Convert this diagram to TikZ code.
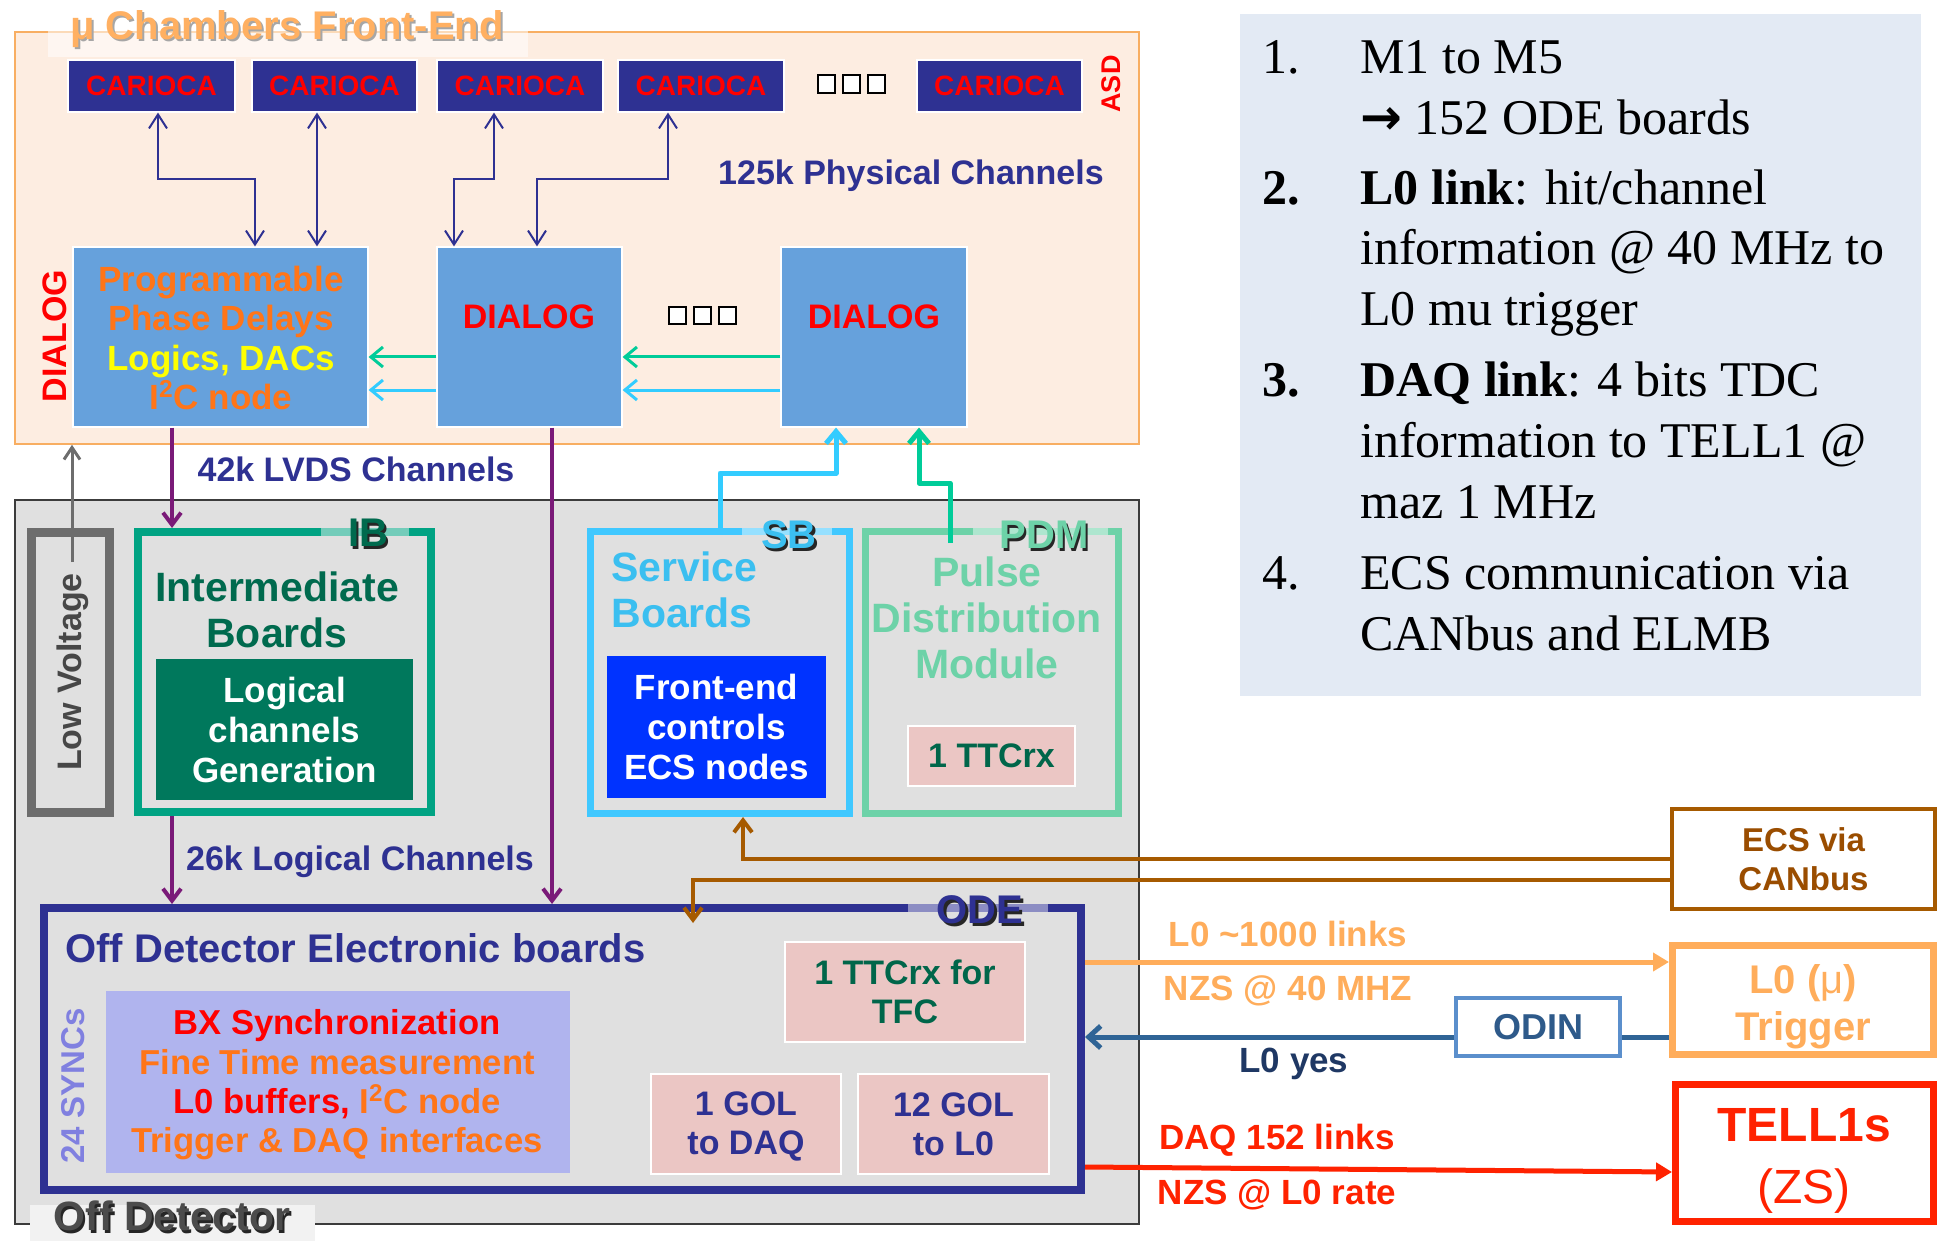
\documentclass[tikz,border=0pt]{standalone}
\usepackage{fontspec}
\setmainfont{Liberation Sans}
\newfontfamily\notefont{Liberation Serif}
\newfontfamily\arrowfont{DejaVu Sans}
\usetikzlibrary{arrows.meta,positioning,fit}
\definecolor{FEfill}{HTML}{FDEDE1}
\definecolor{FEedge}{HTML}{F8AE62}
\definecolor{TitleOr}{HTML}{FFB062}
\definecolor{CarBlue}{HTML}{2E3192}
\definecolor{DiaBlue}{HTML}{66A1DC}
\definecolor{HotRed}{HTML}{FF0000}
\definecolor{TxtOr}{HTML}{FF7518}
\definecolor{TxtYel}{HTML}{FFFF00}
\definecolor{Plum}{HTML}{7A1A78}
\definecolor{ODfill}{HTML}{E0E0E0}
\definecolor{ODedge}{HTML}{3C3C3C}
\definecolor{LVgray}{HTML}{6D6D6D}
\definecolor{IBgreen}{HTML}{00A383}
\definecolor{IBtext}{HTML}{006A4E}
\definecolor{IBinner}{HTML}{00785C}
\definecolor{SBblue}{HTML}{40C8FF}
\definecolor{SBtext}{HTML}{3BBFF0}
\definecolor{SBinner}{HTML}{0033FF}
\definecolor{PDMgreen}{HTML}{6DD2A8}
\definecolor{Mint}{HTML}{00CC99}
\definecolor{Sky}{HTML}{33CCFF}
\definecolor{Pink}{HTML}{EBC6C4}
\definecolor{TTCtext}{HTML}{00664A}
\definecolor{Brown}{HTML}{A65A00}
\definecolor{BrownTxt}{HTML}{9A4D00}
\definecolor{L0or}{HTML}{FFAD5B}
\definecolor{OdinEdge}{HTML}{5B8FCC}
\definecolor{OdinTxt}{HTML}{2E5A8A}
\definecolor{OdinLine}{HTML}{2F6496}
\definecolor{YesTxt}{HTML}{1F3864}
\definecolor{TellRed}{HTML}{FF2200}
\definecolor{InfoBg}{HTML}{E3EAF4}
\definecolor{Lav}{HTML}{B0B4EE}
\definecolor{SyncTxt}{HTML}{8080E0}
\newcommand\fsz[2]{\fontsize{#1}{#2}\selectfont}
\tikzset{
  >=Latex,
  panelfe/.style={fill=FEfill,draw=FEedge,line width=.8pt,inner sep=0pt},
  panelod/.style={fill=ODfill,draw=ODedge,line width=.8pt,inner sep=0pt},
  cario/.style={fill=CarBlue,draw=white,line width=.6pt,inner sep=0pt},
  cartxt/.style={text=HotRed,font=\bfseries\fsz{14}{16},inner sep=0pt},
  diabox/.style={fill=DiaBlue,draw=white,line width=.6pt,inner sep=0pt},
  diatxt/.style={text=HotRed,font=\bfseries\fsz{17}{20},inner sep=0pt},
  chantxt/.style={text=CarBlue,font=\bfseries\fsz{17}{20},inner sep=0pt},
  sidetxt/.style={font=\bfseries\fsz{17}{20},inner sep=0pt,rotate=90},
  unitbox/.style={draw,line width=4pt,inner sep=0pt},
  bigname/.style={font=\bfseries\fsz{20.5}{23},inner sep=0pt,align=center},
  corebox/.style={inner sep=0pt},
  coretxt/.style={inner sep=0pt,text=white,align=center,font=\bfseries\fsz{17.5}{20}},
  pinkbox/.style={fill=Pink,draw=white,line width=1pt,inner sep=0pt},
  pinktxt/.style={inner sep=0pt,align=center,font=\bfseries\fsz{17}{19.5}},
  outbox/.style={fill=white,inner sep=0pt},
  outtxt/.style={inner sep=0pt,align=center},
  tagfont/.style={font=\bfseries\fsz{20}{22},inner sep=0pt},
  tagpatch/.style={fill=white,fill opacity=.45},
  sq/.style={draw=black,fill=white,line width=1pt},
  linktxt/.style={font=\bfseries\fsz{17.5}{20},inner sep=0pt},
  note/.style={font=\notefont\fsz{25}{30},anchor=base west,inner sep=0pt},
  chan/.style={draw=CarBlue,line width=1pt,{Straight Barb[length=7pt,width=9pt]}-{Straight Barb[length=7pt,width=9pt]}},
  sig/.style={line width=1.5pt,-{Straight Barb[length=6pt,width=10pt]}},
  lvds/.style={draw=Plum,line width=2pt,-{Straight Barb[length=6pt,width=9pt]}},
  lvup/.style={draw=LVgray,line width=1.5pt,-{Straight Barb[length=6pt,width=8pt]}},
  ctrl/.style={line width=2.5pt,line join=round,-{Straight Barb[length=6pt,width=10pt]}},
  ecsl/.style={draw=Brown,line width=2pt,-{Straight Barb[length=6pt,width=9pt]}},
  l0l/.style={draw=L0or,line width=2.5pt,-{Triangle[length=8pt,width=9pt]}},
  odinl/.style={draw=OdinLine,line width=2.5pt},
  daql/.style={draw=TellRed,line width=2.5pt,-{Triangle[length=8pt,width=9pt]}}
}
% label with a dark drop shadow
\newcommand\shadetag[5][]{%
  \node[tagfont,#1,text=black!85,xshift=1.2pt,yshift=-1.2pt] at (#3) {#5};
  \node[tagfont,#1,text=#4] (#2) at (#3) {#5};}

\begin{document}
\begin{tikzpicture}[x=.5pt,y=-.5pt]
\useasboundingbox (0,0) rectangle (1939,1241);

% front-end
\node[panelfe,fit={(15,32)(1139,444)}] (fe) {};
\fill[white,opacity=.55] (48,6) rectangle (528,57);
\node[tagfont,text=black!35,xshift=1pt,yshift=-1pt] at (287,29) {μ Chambers Front-End};
\node[tagfont,text=TitleOr] (title) at (287,29) {μ Chambers Front-End};
\foreach \i/\xa/\xb in {1/68/235,2/252/417,3/437/603,4/618/784,5/917/1082}{
  \node[cario,fit={(\xa,60)(\xb,112)}] (c\i) {};
  \node[cartxt] (ct\i) at (c\i.center) {CARIOCA};}
\foreach \k in {0,1,2} \draw[sq] (818+25*\k,75) rectangle ++(17,18);
\node[sidetxt,text=HotRed,font=\bfseries\fsz{13.5}{15}] (asd) at (1111,84) {ASD};
\node[chantxt] (phys) at (911,176) {125k Physical Channels};

\node[diabox,fit={(73,247)(368,427)}] (pd) {};
\node[align=center,inner sep=0pt,text=TxtOr,font=\bfseries\fsz{17.5}{19.7}] (pdtxt) at (221,338)
  {Programmable\\Phase Delays\\{\color{TxtYel}Logics, DACs}\\I\textsuperscript{2}C node};
\node[sidetxt,text=HotRed] (dlab) at (55,336) {DIALOG};
\node[diabox,fit={(437,247)(622,427)}] (d2) {};
\node[diatxt] (d2t) at (529,317) {DIALOG};
\node[diabox,fit={(781,247)(967,427)}] (d3) {};
\node[diatxt] (d3t) at (874,317) {DIALOG};
\foreach \k in {0,1,2} \draw[sq] (669+25*\k,307) rectangle ++(17,17);

% off detector
\node[panelod,fit={(15,500)(1139,1224)}] (od) {};
\fill[black!5] (30,1205) rectangle (315,1241);
\shadetag[font=\bfseries\fsz{20.5}{23}]{odtag}{172,1216}{black!70}{Off Detector}

\node[unitbox,draw=LVgray,line width=4.5pt,fit={(31.5,532.5)(109.5,812.5)}] (lv) {};
\node[sidetxt,text=black!72] (lvtxt) at (73,672) {Low Voltage};

\node[unitbox,draw=IBgreen,fit={(138,532)(431,812)}] (ib) {};
\fill[tagpatch] (321,528) rectangle (409,536);
\shadetag{ibtag}{368,533}{IBtext}{IB}
\node[bigname,text=IBtext] (ibname) at (277,610) {Intermediate\\Boards};
\node[corebox,fill=IBinner,fit={(156,659)(413,800)}] (ibcore) {};
\node[coretxt] (ibcoret) at (ibcore.center) {Logical\\channels\\Generation};

\node[unitbox,draw=SBblue,line width=3.5pt,fit={(590.5,531.5)(849.5,813.5)}] (sb) {};
\fill[tagpatch] (742,528) rectangle (832,535);
\shadetag{sbtag}{789,535}{SBtext}{SB}
\node[bigname,text=SBtext,align=left,anchor=west] (sbname) at (611,590) {Service\\Boards};
\node[corebox,fill=SBinner,fit={(607,656)(826,798)}] (sbcore) {};
\node[coretxt] (sbcoret) at (sbcore.center) {Front-end\\controls\\ECS nodes};

\node[unitbox,draw=PDMgreen,line width=3.5pt,fit={(865.5,531.5)(1118.5,813.5)}] (pdm) {};
\fill[tagpatch] (973,528) rectangle (1108,535);
\shadetag{pdmtag}{1044,535}{PDMgreen}{PDM}
\node[bigname,text=PDMgreen] (pdmname) at (987,618) {Pulse\\Distribution\\Module};
\node[pinkbox,fit={(908,726)(1075,786)}] (ttc) {};
\node[pinktxt,text=TTCtext] (ttct) at (ttc.center) {1 TTCrx};

\node[unitbox,draw=CarBlue,fit={(44,908)(1081,1190)}] (ode) {};
\fill[tagpatch] (908,904) rectangle (1048,912);
\shadetag{odetag}{980,910}{CarBlue}{ODE}
\node[font=\bfseries\fsz{20}{22},text=CarBlue,anchor=west,inner sep=0pt] (odename) at (65,948) {Off Detector Electronic boards};
\node[sidetxt,text=SyncTxt,font=\bfseries\fsz{16.5}{18}] (sync) at (73,1086) {24 SYNCs};
\node[fill=Lav,inner sep=0pt,fit={(106,991)(570,1173)}] (bx) {};
\node[inner sep=0pt,align=center,text=TxtOr,font=\bfseries\fsz{17.3}{19.7}] (bxt) at (337,1085)
  {{\color{HotRed}BX Synchronization}\\Fine Time measurement\\{\color{HotRed}L0 buffers,} I\textsuperscript{2}C node\\Trigger \& DAQ interfaces};
\node[pinkbox,fit={(785,942)(1025,1042)}] (ttcfc) {};
\node[pinktxt,text=TTCtext] (ttcfct) at (ttcfc.center) {1 TTCrx for\\TFC};
\node[pinkbox,fit={(651,1074)(841,1174)}] (gold) {};
\node[pinktxt,text=CarBlue] (goldt) at (746,1126) {1 GOL\\to DAQ};
\node[pinkbox,fit={(858,1074)(1049,1174)}] (goll) {};
\node[pinktxt,text=CarBlue] (gollt) at (goll.center) {12 GOL\\to L0};
\node[chantxt] (lvdstxt) at (356,469) {42k LVDS Channels};
\node[chantxt] (logtxt) at (360,862) {26k Logical Channels};

% outside
\node[outbox,draw=Brown,line width=2pt,fit={(1672,809)(1935,909)}] (ecs) {};
\node[outtxt,text=BrownTxt,font=\bfseries\fsz{16.5}{19.5}] (ecst) at (ecs.center) {ECS via\\CANbus};
\node[outbox,draw=L0or,line width=3.5pt,fit={(1672.5,945.5)(1933.5,1054.5)}] (l0) {};
\node[outtxt,text=L0or,font=\bfseries\fsz{20}{23.5}] (l0t) at (1803,1007) {L0 ({\mdseries μ})\\Trigger};
\node[outbox,draw=OdinEdge,line width=1.6pt,fit={(1456,998)(1620,1056)}] (odin) {};
\node[outtxt,text=OdinTxt,font=\bfseries\fsz{18}{20}] (odint) at (odin.center) {ODIN};
\node[outbox,draw=TellRed,line width=3.5pt,fit={(1675.5,1084.5)(1933.5,1221.5)}] (tell) {};
\node[text=TellRed,font=\bfseries\fsz{24}{26},inner sep=0pt] (telltxt) at (1804,1125) {TELL1s};
\node[text=TellRed,font=\fsz{24}{26},inner sep=0pt] (zstxt) at (1804,1191) {(ZS)};

% connectors
\draw[chan] (c1.south -| 158,0) |- (255,179) -- (pd.north -| 255,0);
\draw[chan] (c2.south -| 317,0) -- (pd.north -| 317,0);
\draw[chan] (c3.south -| 494,0) |- (454,179) -- (d2.north -| 454,0);
\draw[chan] (c4.south -| 668,0) |- (537,179) -- (d2.north -| 537,0);
\draw[sig,draw=Mint] (d2.west |- 0,357) -- (pd.east |- 0,357);
\draw[sig,draw=Mint] (d3.west |- 0,357) -- (d2.east |- 0,357);
\draw[sig,draw=Sky] (d2.west |- 0,390) -- (pd.east |- 0,390);
\draw[sig,draw=Sky] (d3.west |- 0,390) -- (d2.east |- 0,390);
\draw[lvds] (pd.south -| 172,0) -- (ib.north -| 172,0);
\draw[lvds] (d2.south -| 552,0) -- (ode.north -| 552,0);
\draw[lvds] (ib.south -| 172,0) -- (ode.north -| 172,0);
\coordinate (lvin) at (72,562);
\draw[lvup] (lvin) -- (fe.south -| lvin);
\draw[ctrl,draw=Sky] (sb.north -| 720,0) |- (836,473) -- (d3.south -| 836,0);
\coordinate (pdmin) at (950,543);
\draw[ctrl,draw=Mint] (pdmin) |- (919,483) -- (d3.south -| 919,0);
\draw[ecsl] (ecs.west |- 0,859) -| (sb.south -| 743,0);
\coordinate (ecsode) at (693,923);
\draw[ecsl] (ecs.west |- 0,880) -| (ecsode);
\draw[l0l] (ode.east |- 0,962) -- (l0.west |- 0,962);
\draw[odinl] (l0.west |- 0,1037) -- (odin.east |- 0,1037);
\draw[odinl,-{Straight Barb[length=6pt,width=11pt]}] (odin.west |- 0,1037) -- (ode.east |- 0,1037);
\draw[daql] (ode.east |- 0,1167) -- (tell.west |- 0,1172);
\node[linktxt,text=L0or] (l0a) at (1288,934) {L0 \textasciitilde1000 links};
\node[linktxt,text=L0or] (l0b) at (1288,991) {NZS @ 40 MHZ};
\node[linktxt,text=YesTxt] (yes) at (1294,1064) {L0 yes};
\node[linktxt,text=TellRed] (daqa) at (1277,1140) {DAQ 152 links};
\node[linktxt,text=TellRed] (daqb) at (1277,1195) {NZS @ L0 rate};

% notes
\node[fill=InfoBg,inner sep=0pt,fit={(1240,14)(1921,696)}] (info) {};
\node[note] (n1) at (1262,74) {1.};
\node[note] (n1a) at (1360,74) {M1 to M5};
\node[note] (n1b) at (1360,135) {{\arrowfont\bfseries →} 152 ODE boards};
\node[note] (n2) at (1262,205) {\textbf{2.}};
\node[note] (n2a) at (1360,205) {\textbf{L0 link}: hit/channel};
\node[note] (n2b) at (1360,265) {information @ 40 MHz to};
\node[note] (n2c) at (1360,326) {L0 mu trigger};
\node[note] (n3) at (1262,396) {\textbf{3.}};
\node[note] (n3a) at (1360,396) {\textbf{DAQ link}: 4 bits TDC};
\node[note] (n3b) at (1360,457) {information to TELL1 @};
\node[note] (n3c) at (1360,518) {maz 1 MHz};
\node[note] (n4) at (1262,589) {4.};
\node[note] (n4a) at (1360,589) {ECS communication via};
\node[note] (n4b) at (1360,650) {CANbus and ELMB};
\end{tikzpicture}
\end{document}
